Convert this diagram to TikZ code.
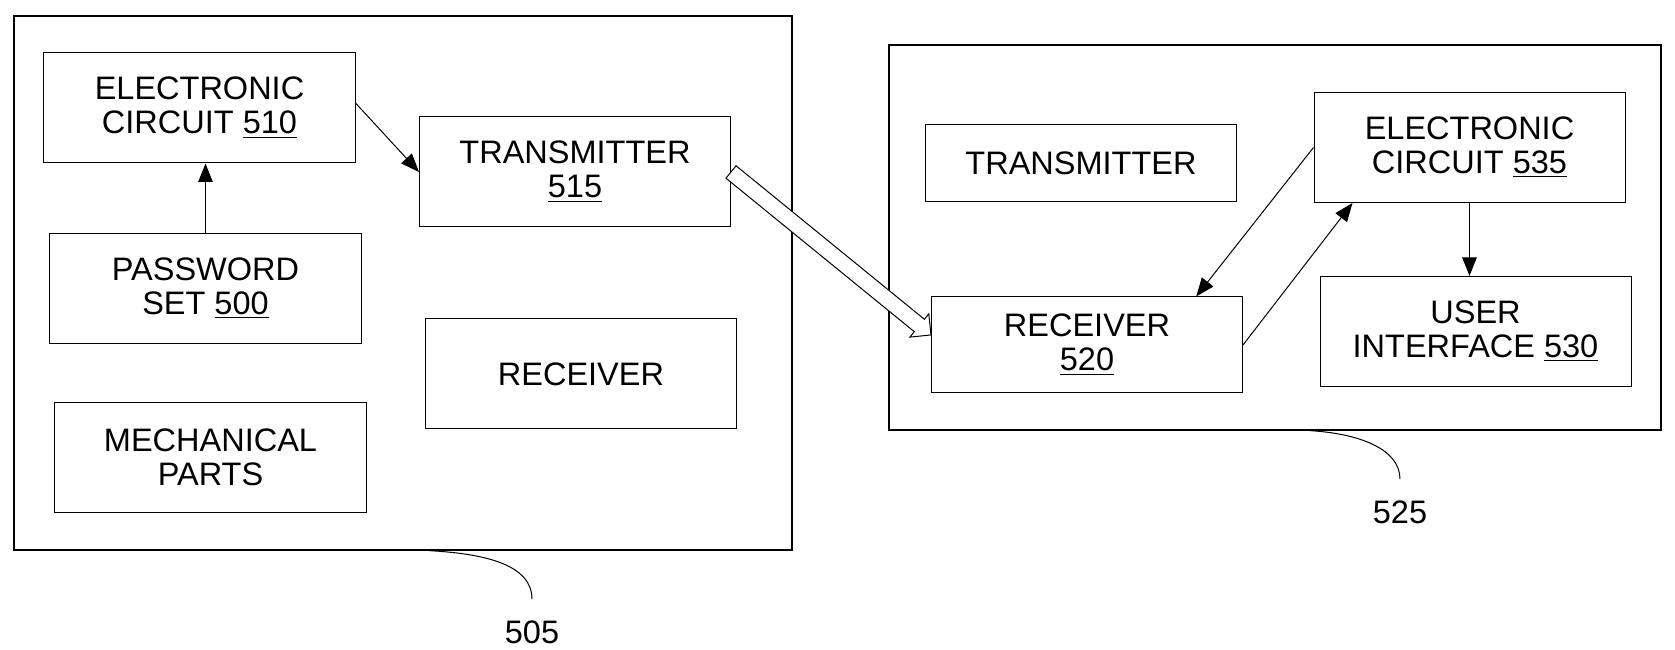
\documentclass[tikz,border=0pt]{standalone}
\usepackage{fontspec}
\setmainfont{Liberation Sans}
\usetikzlibrary{calc,arrows.meta,shapes.arrows}

\begin{document}
\begin{tikzpicture}[x=0.4pt, y=-0.4pt,
    part/.style={draw, thin, align=center, inner sep=2pt, minimum width=124.4pt, minimum height=44pt, font=\fontsize{13}{13.6}\selectfont},
    unit/.style={draw, line width=0.5pt, inner sep=0pt},
    arr/.style={thin, -{Triangle[length=7.4pt, width=5.8pt]}},
    hollow/.style={single arrow, draw, thin, fill=white, inner sep=3pt, outer sep=0pt, single arrow head extend=2.8pt, single arrow tip angle=90},
    callout/.style={font=\fontsize{13}{13.6}\selectfont}]
  \useasboundingbox (0,0) rectangle (1675,650);

  % the two units
  \node[unit, minimum width=311.2pt, minimum height=213.6pt] (unit505) at (403,283) {};
  \node[unit, minimum width=308.8pt, minimum height=154pt] (unit525) at (1275,237.5) {};

  % first unit
  \node[part] (ec510) at (199.5,108) {ELECTRONIC\\CIRCUIT \underline{510}};
  \node[part] (tx515) at (575,172) {TRANSMITTER\\\underline{515}};
  \node[part] (pw500) at (205.5,288.5) {PASSWORD\\SET \underline{500}};
  \node[part] (rx) at (581,374) {RECEIVER};
  \node[part] (mech) at (210.5,457.5) {MECHANICAL\\PARTS};

  % second unit
  \node[part, minimum height=30.8pt] (tx) at (1081,163.5) {TRANSMITTER};
  \node[part] (ec535) at (1469.5,147.5) {ELECTRONIC\\CIRCUIT \underline{535}};
  \node[part, minimum height=38.4pt] (rx520) at (1087,345) {RECEIVER\\\underline{520}};
  \node[part] (ui530) at (1475.5,331.5) {USER\\INTERFACE \underline{530}};

  \draw[arr] (pw500.north) -- (pw500.north |- ec510.south);
  \draw[arr] ([yshift=2pt]ec510.east) -- (tx515.west);
  % link between the units
  \path let \p1 = ($([yshift=4pt]rx520.west)-(tx515.east)$), \n1 = {atan2(\y1,\x1)}, \n2 = {veclen(\x1,\y1)} in
    node[hollow, minimum height=\n2, rotate=\n1, anchor=tail] (link) at (tx515.east) {};
  \draw[arr] (ec535.west) -- ($(rx520.north)!0.7!(rx520.north east)$);
  \draw[arr] (rx520.east) -- ($(ec535.south west)!0.25!(ec535.south)$);
  \draw[arr] (ec535.south) -- (ec535.south |- ui530.north);

  % reference numerals
  \node[callout] (lbl505) at (532,632) {505};
  \node[callout] (lbl525) at (1400,512) {525};
  \draw[thin] ($(unit505.south west)!0.533!(unit505.south east)$) .. controls +(55,3) and +(0,-35) .. ([yshift=5pt]lbl505.north);
  \draw[thin] ($(unit525.south west)!0.545!(unit525.south east)$) .. controls +(50,3) and +(0,-30) .. ([yshift=5pt]lbl525.north);
\end{tikzpicture}
\end{document}
